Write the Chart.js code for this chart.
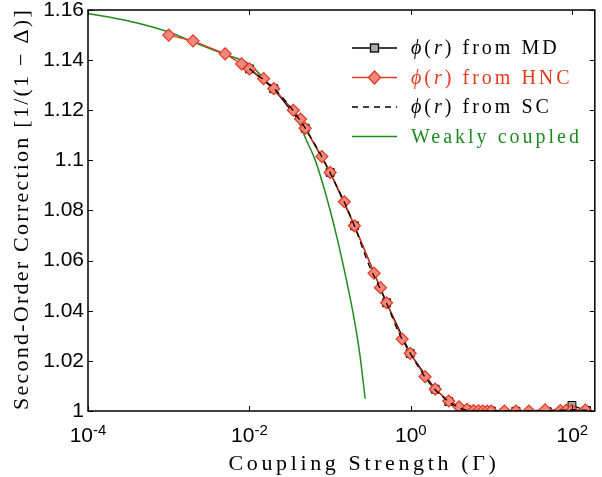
<!DOCTYPE html>
<html><head><meta charset="utf-8">
<script src="https://cdn.jsdelivr.net/npm/chart.js@4.4.1/dist/chart.umd.min.js"></script>
<style>html,body{margin:0;padding:0;background:#fff}canvas{display:block}</style>
</head><body>
<canvas id="c" width="602" height="477"></canvas>
<script>
// ---- data ----
const xTickValues = [1e-4, 1e-2, 1, 100];
const xTickExponents = ['-4', '-2', '0', '2'];
const yTickValues = [1, 1.02, 1.04, 1.06, 1.08, 1.1, 1.12, 1.14, 1.16];

const hncGamma = [0.001, 0.002, 0.005, 0.008, 0.01, 0.015, 0.02, 0.035, 0.043, 0.049, 0.079, 0.1, 0.15, 0.2, 0.35, 0.42, 0.5, 0.78, 0.98, 1.5, 2, 2.95, 3.95, 4.96, 6, 6.9, 7.8, 8.8, 9.9, 14.4, 20, 29, 46, 71, 84, 99, 145];
const hncValue = [1.150, 1.1477, 1.1425, 1.1385, 1.1365, 1.1326, 1.1286, 1.1200, 1.1165, 1.1128, 1.1015, 1.0952, 1.0835, 1.0739, 1.0550, 1.0492, 1.0432, 1.0287, 1.0230, 1.0137, 1.0087, 1.0040, 1.0017, 1.0007, 1.0002, 1.0001, 1.0, 1.0, 1.0, 1.0, 1.0, 1.0, 1.0005, 1.0002, 1.0003, 1.0003, 1.0004];

const mdGamma = [0.01, 0.02, 0.049, 0.1, 0.2, 0.5, 0.98, 2, 2.95, 4.96, 9.9, 20, 49, 99, 150];
const mdValue = [1.1365, 1.1286, 1.1128, 1.0952, 1.0739, 1.0432, 1.0230, 1.0087, 1.0038, 1.0005, 1.0, 0.9999, 0.9997, 1.0022, 1.0002];

const scGamma = [0.01, 0.02, 0.03, 0.05, 0.07, 0.1, 0.15, 0.2, 0.3, 0.4, 0.5, 0.7, 1, 1.5, 2, 3, 4, 5, 7, 10, 20, 50, 100, 150];
const scValue = [1.1366, 1.1287, 1.1225, 1.1125, 1.1045, 1.0950, 1.0833, 1.0738, 1.0585, 1.0500, 1.0430, 1.0316, 1.0226, 1.0135, 1.0085, 1.0036, 1.0013, 1.0003, 0.9999, 1.0, 1.0, 1.0, 1.0005, 1.0003];

const weakGamma = [1e-4, 3e-4, 1e-3, 2e-3, 5e-3, 1e-2, 2e-2, 3e-2, 4e-2, 5e-2, 0.0643, 0.0806, 0.1011, 0.1267, 0.1588, 0.1991, 0.2325, 0.2716];
const weakValue = [1.1586, 1.1558, 1.1512, 1.1472, 1.1423, 1.1383, 1.1282, 1.1222, 1.1160, 1.1085, 1.1007, 1.0909, 1.0795, 1.0667, 1.0524, 1.0365, 1.0229, 1.0049];

const legendNames = [' from MD', ' from HNC', ' from SC', 'Weakly coupled'];
const xTitle = 'Coupling Strength (\u0393)';
const yTitle = 'Second-Order Correction [1/(1 \u2212 \u0394)]';

// ---- styles ----
const RED = '#e3391e', PINK = '#f2877f', GREEN = '#1f8a1f', GRAY = '#aaaaaa';
const toPts = (xs, ys) => xs.map((x, i) => ({x: x, y: ys[i]}));

function setLS(ctx, v) { if ('letterSpacing' in ctx) ctx.letterSpacing = v + 'px'; }
function spacingFor(ctx, text, target) {
  setLS(ctx, 0);
  const w = ctx.measureText(text).width;
  return Math.max(0, (target - w) / text.length);
}

const decor = {
  id: 'decor',
  afterDraw(chart) {
    const ctx = chart.ctx, a = chart.chartArea;
    const xs = chart.scales.x, ys = chart.scales.y;
    ctx.save();
    // frame
    ctx.strokeStyle = '#000'; ctx.lineWidth = 1.5;
    ctx.strokeRect(a.left, a.top, a.right - a.left, a.bottom - a.top);
    // inner ticks
    ctx.lineWidth = 1;
    ctx.beginPath();
    xTickValues.forEach(v => {
      const p = Math.round(xs.getPixelForValue(v)) + 0.5;
      ctx.moveTo(p, a.bottom); ctx.lineTo(p, a.bottom - 5);
      ctx.moveTo(p, a.top); ctx.lineTo(p, a.top + 5);
    });
    yTickValues.forEach(v => {
      const p = Math.round(ys.getPixelForValue(v)) + 0.5;
      ctx.moveTo(a.left, p); ctx.lineTo(a.left + 5, p);
      ctx.moveTo(a.right, p); ctx.lineTo(a.right - 5, p);
    });
    ctx.stroke();
    // x tick labels 10^n
    ctx.fillStyle = '#000'; ctx.textAlign = 'left'; ctx.textBaseline = 'alphabetic';
    xTickValues.forEach((v, i) => {
      const p = xs.getPixelForValue(v);
      ctx.font = '21px "Liberation Sans"';
      const w1 = ctx.measureText('10').width;
      ctx.font = '15px "Liberation Sans"';
      const w2 = ctx.measureText(xTickExponents[i]).width;
      const s = p - (w1 + w2) / 2;
      ctx.font = '21px "Liberation Sans"';
      ctx.fillText('10', s, 442);
      ctx.font = '15px "Liberation Sans"';
      ctx.fillText(xTickExponents[i], s + w1, 435);
    });
    // axis titles
    ctx.font = '22px "Liberation Serif"';
    ctx.textAlign = 'center';
    let ls = spacingFor(ctx, xTitle, 271);
    setLS(ctx, ls);
    ctx.fillText(xTitle, 364, 470);
    setLS(ctx, 0);
    ls = spacingFor(ctx, yTitle, 402);
    setLS(ctx, ls);
    ctx.save();
    ctx.translate(28, 209);
    ctx.rotate(-Math.PI / 2);
    ctx.fillText(yTitle, 0, 0);
    ctx.restore();
    setLS(ctx, 0);
    // legend
    const rows = [48, 77.5, 107, 136.5];
    const x0 = 352, x1 = 397, xm = 374.5, tx = 411;
    ctx.lineWidth = 1.3;
    // MD
    ctx.strokeStyle = '#000'; ctx.setLineDash([]);
    ctx.beginPath(); ctx.moveTo(x0, rows[0]); ctx.lineTo(x1, rows[0]); ctx.stroke();
    ctx.fillStyle = GRAY; ctx.fillRect(xm - 4, rows[0] - 4, 8, 8);
    ctx.strokeRect(xm - 4, rows[0] - 4, 8, 8);
    // HNC
    ctx.strokeStyle = RED;
    ctx.beginPath(); ctx.moveTo(x0, rows[1]); ctx.lineTo(x1, rows[1]); ctx.stroke();
    ctx.beginPath();
    ctx.moveTo(xm, rows[1] - 6.5); ctx.lineTo(xm + 6, rows[1]); ctx.lineTo(xm, rows[1] + 6.5); ctx.lineTo(xm - 6, rows[1]); ctx.closePath();
    ctx.fillStyle = PINK; ctx.fill(); ctx.stroke();
    // SC
    ctx.strokeStyle = '#000'; ctx.setLineDash([6, 5]);
    ctx.beginPath(); ctx.moveTo(x0, rows[2]); ctx.lineTo(x1, rows[2]); ctx.stroke();
    ctx.setLineDash([]);
    // weak
    ctx.strokeStyle = GREEN; ctx.lineWidth = 1.5;
    ctx.beginPath(); ctx.moveTo(x0, rows[3]); ctx.lineTo(x1, rows[3]); ctx.stroke();
    // legend texts
    ctx.textAlign = 'left';
    const LF = '20px "Liberation Serif"';
    ctx.font = LF;
    const lls = spacingFor(ctx, legendNames[3], 171);
    const colors = ['#000', RED, '#000', GREEN];
    rows.forEach((y, i) => {
      const parts = i < 3
        ? [['\u03d5', true], ['(', false], ['r', true], [')', false], [legendNames[i], false]]
        : [[legendNames[3], false]];
      let x = tx;
      ctx.fillStyle = colors[i];
      parts.forEach(([t, it]) => {
        ctx.font = (it ? 'italic ' : '') + LF;
        setLS(ctx, lls);
        ctx.fillText(t, x, y + 6);
        x += ctx.measureText(t).width;
      });
      setLS(ctx, 0);
    });
    ctx.restore();
  }
};

new Chart(document.getElementById('c'), {
  type: 'line',
  data: {
    datasets: [
      { label: 'SC', data: toPts(scGamma, scValue), borderColor: '#000', borderWidth: 1.3, borderDash: [6, 5],
        pointRadius: 0, cubicInterpolationMode: 'monotone', order: 0 },
      { label: 'HNC', data: toPts(hncGamma, hncValue), borderColor: RED, borderWidth: 1.3, tension: 0,
        pointStyle: 'rectRot', pointRadius: 6, pointBackgroundColor: PINK, pointBorderColor: RED, pointBorderWidth: 1.2, order: 1 },
      { label: 'MD', data: toPts(mdGamma, mdValue), borderColor: '#000', borderWidth: 1.3, tension: 0,
        pointStyle: 'rect', pointRadius: 5.6, pointBackgroundColor: GRAY, pointBorderColor: '#000', pointBorderWidth: 1, order: 2 },
      { label: 'Weak', data: toPts(weakGamma, weakValue), borderColor: GREEN, borderWidth: 1.5,
        pointRadius: 0, cubicInterpolationMode: 'monotone', order: 3 }
    ]
  },
  options: {
    responsive: false, animation: false, devicePixelRatio: 1,
    layout: { padding: { left: 0, right: 2, top: 10, bottom: 0 } },
    plugins: { legend: { display: false }, tooltip: { enabled: false } },
    scales: {
      x: {
        type: 'logarithmic', min: 1e-4, max: 190,
        afterBuildTicks: s => { s.ticks = xTickValues.map(v => ({value: v})); },
        afterFit: s => { s.height = 66; s.paddingLeft = 0; s.paddingRight = 0; },
        ticks: { display: false },
        grid: { display: false, drawTicks: false }, border: { display: false }
      },
      y: {
        type: 'linear', min: 1, max: 1.16,
        afterBuildTicks: s => { s.ticks = yTickValues.map(v => ({value: v})); },
        afterFit: s => { s.width = 88; s.paddingTop = 0; s.paddingBottom = 0; },
        ticks: { font: { family: 'Liberation Sans', size: 21 }, color: '#000', padding: 4, autoSkip: false,
                 callback: v => String(+Number(v).toFixed(2)) },
        grid: { display: false, drawTicks: false }, border: { display: false }
      }
    }
  },
  plugins: [decor]
});
</script>
</body></html>
